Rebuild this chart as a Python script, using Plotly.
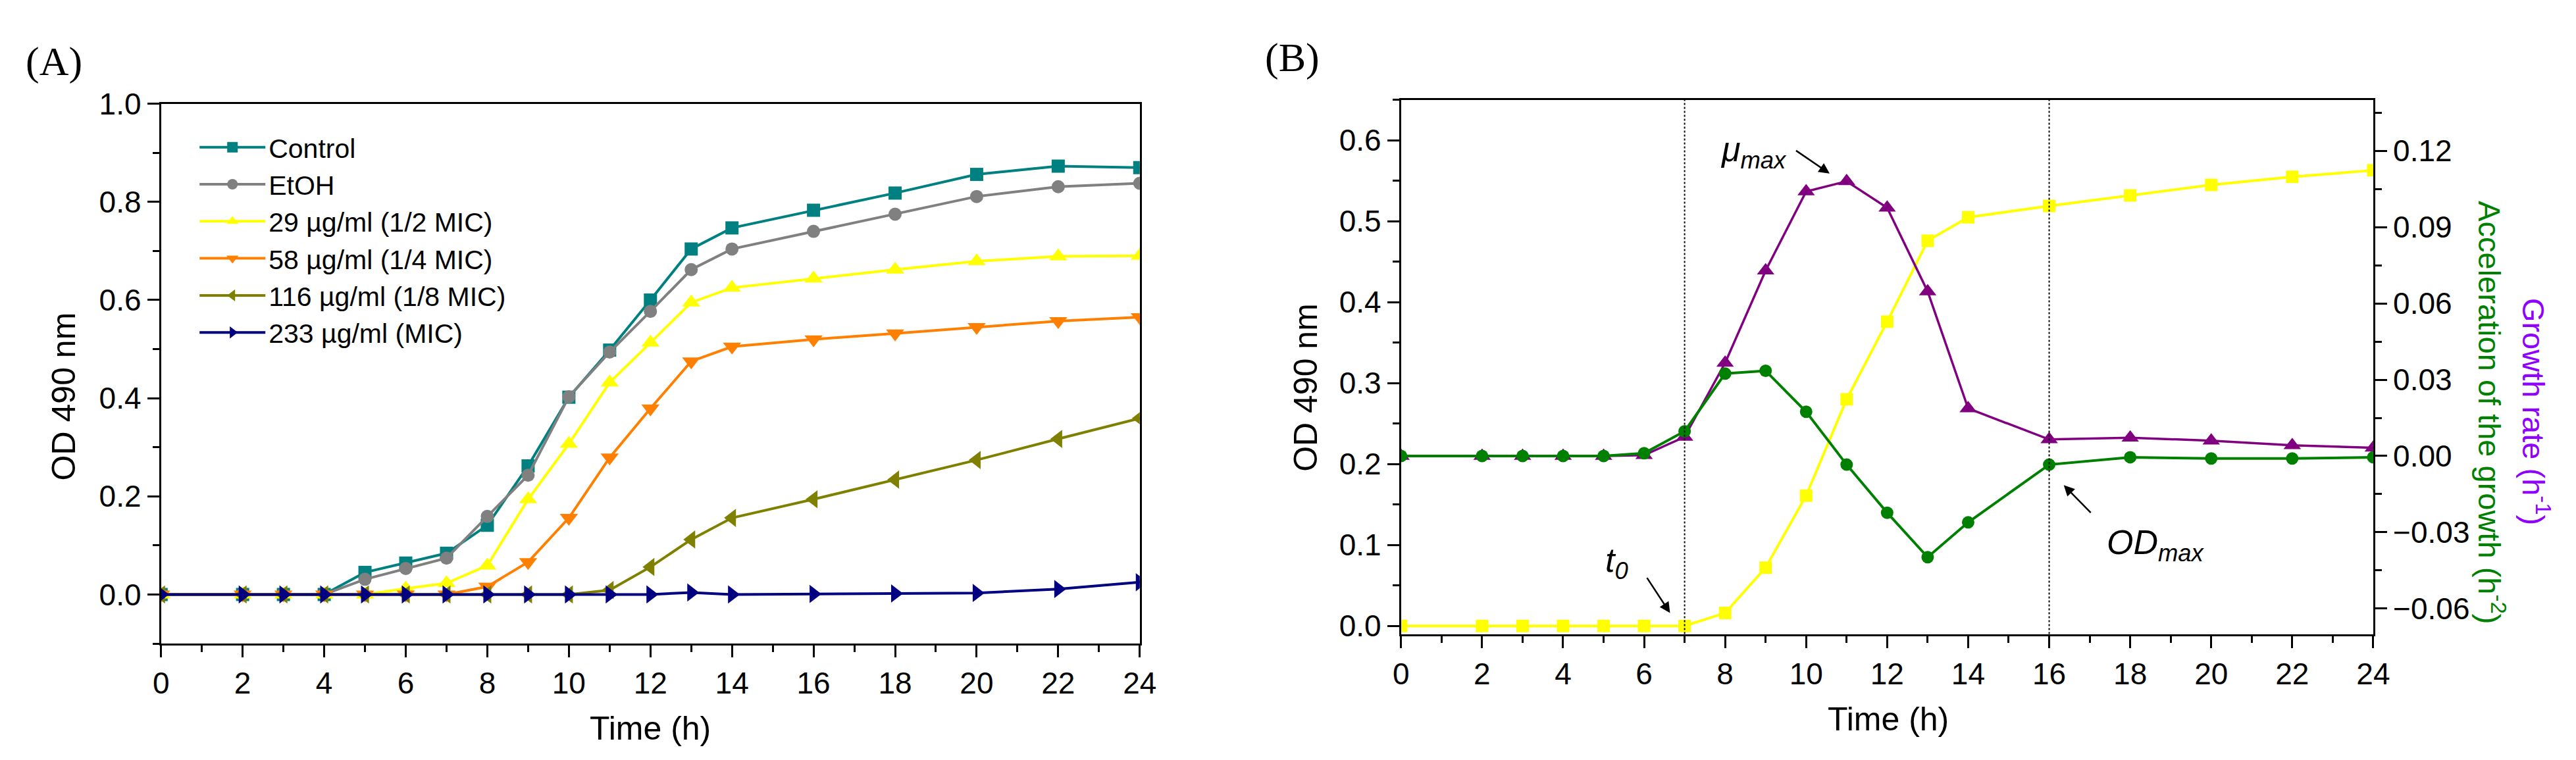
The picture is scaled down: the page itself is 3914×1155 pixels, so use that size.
import plotly.graph_objects as go

# time points (h), same sampling for both panels
time_h = [0, 2, 3, 4, 5, 6, 7, 8, 9, 10, 11, 12, 13, 14, 16, 18, 20, 22, 24]

# panel A: OD 490 nm
control = [0, 0, 0, 0, 0.045, 0.064, 0.084, 0.141, 0.262, 0.402, 0.498, 0.600, 0.704, 0.747, 0.783, 0.818, 0.856, 0.873, 0.870]
etoh = [0, 0, 0, 0, 0.031, 0.053, 0.074, 0.159, 0.243, 0.403, 0.494, 0.577, 0.662, 0.704, 0.740, 0.775, 0.811, 0.831, 0.838]
mic_half = [0, 0, 0, 0, 0, 0.012, 0.023, 0.059, 0.194, 0.307, 0.432, 0.513, 0.595, 0.625, 0.644, 0.662, 0.679, 0.689, 0.690]
mic_quarter = [0, 0, 0, 0, 0, 0, 0, 0.016, 0.066, 0.156, 0.279, 0.379, 0.475, 0.505, 0.520, 0.532, 0.545, 0.557, 0.565]
mic_eighth = [0, 0, 0, 0, 0, 0, 0, 0, 0, 0, 0.009, 0.056, 0.112, 0.156, 0.194, 0.234, 0.274, 0.317, 0.359]
mic_full = [0, 0, 0, 0, 0, 0, 0, 0, 0, 0, 0, 0, 0.004, 0.0, 0.001, 0.002, 0.003, 0.011, 0.025]

labels_a = ["Control", "EtOH", "29 µg/ml (1/2 MIC)", "58 µg/ml (1/4 MIC)",
            "116 µg/ml (1/8 MIC)", "233 µg/ml (MIC)"]

# panel B: OD (left axis), growth rate and acceleration (right axis)
od_b = [0, 0, 0, 0, 0, 0, 0, 0.016, 0.072, 0.161, 0.280, 0.376, 0.476, 0.505, 0.519, 0.532, 0.545, 0.555, 0.563]
growth_rate = [0, 0, 0, 0, 0, 0.0003, 0.0075, 0.0366, 0.0729, 0.104, 0.108, 0.0976, 0.0647, 0.0187, 0.0065, 0.0072, 0.006, 0.0042, 0.0032]
acceleration = [0, 0, 0, 0, 0, 0.0011, 0.0097, 0.0324, 0.0335, 0.0174, -0.0034, -0.0223, -0.0398, -0.0261, -0.0034, -0.0005, -0.001, -0.001, -0.0005]

# t0 and ODmax times (dotted lines)
phase_times = [7, 16]

FONT = "Liberation Sans"
W, H = 3914, 1155


def px_x(v):
    return v / W


def px_y(v):
    return 1 - v / H


def axis_style(**kw):
    d = dict(
        showline=True, linecolor="black", linewidth=3, mirror=True,
        ticks="outside", ticklen=18, tickwidth=3, tickcolor="black",
        showgrid=False, zeroline=False,
        tickfont=dict(family=FONT, size=46, color="black"),
    )
    d.update(kw)
    return d


def build_figure():
    fig = go.Figure()

    series_a = [control, etoh, mic_half, mic_quarter, mic_eighth, mic_full]
    colors_a = ["#008080", "#808080", "#FFFF00", "#FF8000", "#808000", "#000080"]
    symbols_a = ["square", "circle", "triangle-up", "triangle-down", "triangle-left", "triangle-right"]
    sizes_a = [20, 20, 24, 24, 24, 24]
    for vals, name, col, sym, sz in zip(series_a, labels_a, colors_a, symbols_a, sizes_a):
        fig.add_trace(go.Scatter(
            x=time_h, y=vals, name=name, mode="lines+markers",
            line=dict(color=col, width=4),
            marker=dict(symbol=sym, size=sz, color=col),
            xaxis="x", yaxis="y",
        ))

    fig.add_trace(go.Scatter(
        x=time_h, y=od_b, mode="lines+markers", showlegend=False,
        line=dict(color="#FFFF00", width=4),
        marker=dict(symbol="square", size=19, color="#FFFF00"),
        xaxis="x2", yaxis="y2",
    ))
    fig.add_trace(go.Scatter(
        x=time_h, y=growth_rate, mode="lines+markers", showlegend=False,
        line=dict(color="#800080", width=3.5),
        marker=dict(symbol="triangle-up", size=23, color="#800080"),
        xaxis="x2", yaxis="y3",
    ))
    fig.add_trace(go.Scatter(
        x=time_h, y=acceleration, mode="lines+markers", showlegend=False,
        line=dict(color="#008000", width=4),
        marker=dict(symbol="circle", size=19, color="#008000"),
        xaxis="x2", yaxis="y3",
    ))

    for t in phase_times:
        fig.add_shape(type="line", xref="x2", yref="y2 domain",
                      x0=t, x1=t, y0=0, y1=1,
                      line=dict(color="black", width=2, dash="dot"))

    fig.update_layout(
        width=W, height=H, autosize=False,
        margin=dict(l=0, r=0, t=0, b=0),
        paper_bgcolor="white", plot_bgcolor="white",
        font=dict(family=FONT, color="black"),
        xaxis=axis_style(domain=[px_x(226), px_x(1728)], range=[0, 24],
                         dtick=2, tick0=0, anchor="y",
                         minor=dict(dtick=1, ticks="outside", ticklen=10, tickwidth=3, tickcolor="black")),
        yaxis=axis_style(domain=[px_y(977), px_y(128)], range=[-0.1, 1.0],
                         dtick=0.2, tick0=0, tickformat=".1f", anchor="x",
                         minor=dict(dtick=0.1, ticks="outside", ticklen=10, tickwidth=3, tickcolor="black")),
        xaxis2=axis_style(domain=[px_x(2129), px_x(3621)], range=[0, 24],
                          dtick=2, tick0=0, anchor="y2",
                          minor=dict(dtick=1, ticks="outside", ticklen=10, tickwidth=3, tickcolor="black")),
        yaxis2=axis_style(domain=[px_y(962), px_y(122)], range=[-0.01, 0.65],
                          dtick=0.1, tick0=0, tickformat=".1f", anchor="x2",
                          minor=dict(dtick=0.05, ticks="outside", ticklen=10, tickwidth=3, tickcolor="black")),
        yaxis3=axis_style(overlaying="y2", side="right", anchor="x2", mirror=False,
                          range=[-0.07, 0.14], dtick=0.03, tick0=0, tickformat=".2f",
                          minor=dict(dtick=0.015, ticks="outside", ticklen=10, tickwidth=3, tickcolor="black")),
        legend=dict(
            x=px_x(280), y=px_y(162), xanchor="left", yanchor="top",
            font=dict(family=FONT, size=41, color="black"),
            bgcolor="rgba(0,0,0,0)", itemwidth=100, tracegroupgap=0,
        ),
    )

    title_font = dict(family=FONT, size=50, color="black")
    notes = [
        dict(text="(A)", x=px_x(62), y=px_y(62), font=dict(family="Liberation Serif", size=62, color="black")),
        dict(text="(B)", x=px_x(1962), y=px_y(55), font=dict(family="Liberation Serif", size=62, color="black")),
        dict(text="OD 490 nm", x=px_x(77), y=px_y(588), textangle=-90, font=title_font),
        dict(text="Time (h)", x=px_x(977), y=px_y(1111), font=title_font),
        dict(text="OD 490 nm", x=px_x(1982), y=px_y(574), textangle=-90, font=title_font),
        dict(text="Time (h)", x=px_x(2877), y=px_y(1096), font=title_font),
        dict(text="Acceleration of the growth (h<sup>-2</sup>)", x=px_x(3802), y=px_y(613),
             textangle=90, font=dict(family=FONT, size=47, color="#008000")),
        dict(text="Growth rate (h<sup>-1</sup>)", x=px_x(3870), y=px_y(612),
             textangle=90, font=dict(family=FONT, size=47, color="#8F00FF")),
    ]
    for n in notes:
        fig.add_annotation(xref="paper", yref="paper", showarrow=False,
                           xanchor="center", yanchor="middle", **n)

    # labels and arrows in panel B
    label_font = dict(family=FONT, size=52, color="black")
    fig.add_annotation(xref="x2", yref="y2", x=7.85, y=0.586, xanchor="left", yanchor="middle",
                       text="<i>μ<sub>max</sub></i>", showarrow=False, font=label_font)
    fig.add_annotation(xref="x2", yref="y2", x=5.0, y=0.078, xanchor="left", yanchor="middle",
                       text="<i>t<sub>0</sub></i>", showarrow=False, font=label_font)
    fig.add_annotation(xref="x2", yref="y2", x=17.39, y=0.10, xanchor="left", yanchor="middle",
                       text="<i>OD<sub>max</sub></i>", showarrow=False, font=label_font)
    arrows = [(10.58, 0.559, -54, -37), (6.64, 0.016, -38, -58), (16.36, 0.174, 44, 45)]
    for x, y, ax, ay in arrows:
        fig.add_annotation(xref="x2", yref="y2", x=x, y=y, ax=ax, ay=ay, text=" ",
                           showarrow=True, arrowhead=2, arrowsize=1.3, arrowwidth=2.5,
                           arrowcolor="black", standoff=0)
    return fig


if __name__ == "__main__":
    fig = build_figure()
    fig.write_html("out.html")
